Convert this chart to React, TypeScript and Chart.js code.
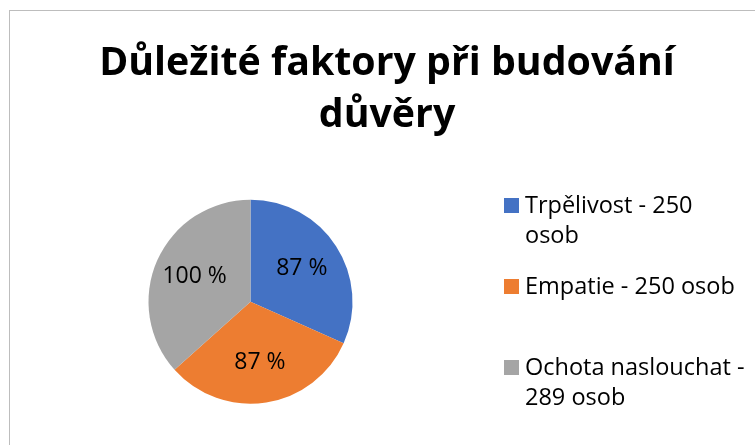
import React, { useEffect, useRef } from 'react';
import { Chart, registerables } from 'chart.js';

Chart.register(...registerables);

const titleLines = ['Důležité faktory při budování', 'důvěry'];
const categories = ['Trpělivost', 'Empatie', 'Ochota naslouchat'];
const respondents = [250, 250, 289];
const percentLabels = ['87 %', '87 %', '100 %'];
const legendLines = [['Trpělivost - 250', 'osob'], ['Empatie - 250 osob'], ['Ochota naslouchat -', '289 osob']];
const sliceColors = ['#4472C4', '#ED7D31', '#A5A5A5'];

const FONT = '"Open Sans", Lato, sans-serif';
const W = 754;
const H = 434;

const titlePlugin = {
  id: 'customTitle',
  afterDraw(chart: any) {
    const ctx = chart.ctx;
    ctx.save();
    ctx.fillStyle = '#000000';
    ctx.font = `bold 39.3px ${FONT}`;
    ctx.textAlign = 'center';
    ctx.textBaseline = 'alphabetic';
    titleLines.forEach((line, i) => ctx.fillText(line, W / 2, 64 + i * 52));
    ctx.restore();
  },
};

const labelPlugin = {
  id: 'sliceLabels',
  afterDatasetsDraw(chart: any) {
    const ctx = chart.ctx;
    const meta = chart.getDatasetMeta(0);
    ctx.save();
    ctx.fillStyle = '#000000';
    ctx.font = `23px ${FONT}`;
    ctx.textAlign = 'center';
    ctx.textBaseline = 'middle';
    meta.data.forEach((arc: any, i: number) => {
      const p = arc.getProps(['x', 'y', 'startAngle', 'endAngle', 'outerRadius'], true);
      const mid = (p.startAngle + p.endAngle) / 2;
      const r = p.outerRadius * 0.6;
      ctx.fillText(percentLabels[i], p.x + Math.cos(mid) * r, p.y + Math.sin(mid) * r);
    });
    ctx.restore();
  },
};

const legendPlugin = {
  id: 'sideLegend',
  afterDraw(chart: any) {
    const ctx = chart.ctx;
    const bg = chart.data.datasets[0].backgroundColor as string[];
    ctx.save();
    ctx.font = `23.5px ${FONT}`;
    ctx.textAlign = 'left';
    ctx.textBaseline = 'alphabetic';
    legendLines.forEach((lines, i) => {
      const top = 187 + i * 81;
      ctx.fillStyle = bg[i];
      ctx.fillRect(494, top, 15, 15);
      ctx.fillStyle = '#000000';
      lines.forEach((t, j) => ctx.fillText(t, 515, top + 15 + j * 30));
    });
    ctx.restore();
  },
};

export default function App() {
  const ref = useRef<HTMLCanvasElement | null>(null);
  useEffect(() => {
    if (!ref.current) return;
    const chart = new Chart(ref.current, {
      type: 'pie',
      data: {
        labels: categories,
        datasets: [
          {
            data: respondents,
            backgroundColor: sliceColors,
            borderWidth: 0,
          },
        ],
      },
      options: {
        responsive: false,
        animation: false,
        devicePixelRatio: 1,
        layout: { padding: { left: 138.5, right: W - 342.5, top: 188.7, bottom: H - 392.7 } },
        plugins: {
          legend: { display: false },
          title: { display: false },
          tooltip: { enabled: false },
        },
      },
      plugins: [labelPlugin, titlePlugin, legendPlugin],
    });
    return () => chart.destroy();
  }, []);

  return (
    <div style={{ position: 'fixed', left: 0, top: 0, width: 755, height: 445, overflow: 'hidden', background: '#ffffff' }}>
      <div
        style={{
          position: 'absolute',
          left: 9,
          top: 10,
          width: 770,
          height: 450,
          borderLeft: '1px solid #bdbdbd',
          borderTop: '1px solid #bdbdbd',
        }}
      >
        <canvas ref={ref} width={W} height={H} style={{ display: 'block', width: W, height: H }} />
      </div>
    </div>
  );
}
